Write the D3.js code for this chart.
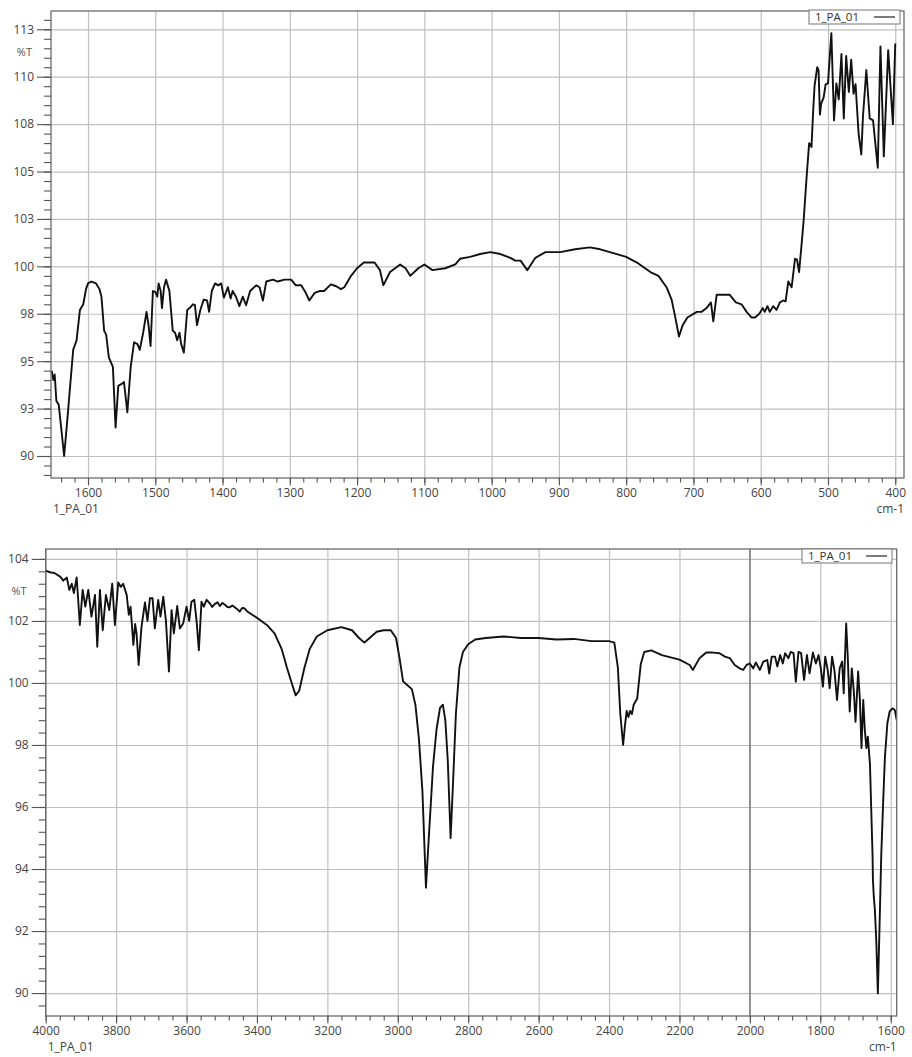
<!DOCTYPE html>
<html><head><meta charset="utf-8">
<script src="https://cdn.jsdelivr.net/npm/d3@7"></script>
<style>
body{margin:0;background:#fff;}
svg text{font-family:"Open Sans","Noto Sans",sans-serif;}
</style></head>
<body><svg id="c" width="912" height="1057"></svg>
<script>
// ---------- DATA ----------
const seriesName = "1_PA_01";
const xUnit = "cm-1";
const yUnit = "%T";

// Top panel (1655 - 387 cm-1)
const topWn = [1654,1651.5,1649.5,1647,1643.5,1639,1635.5,1631,1627,1622,1617,1612,1607,1603,1600,1595,1588,1583,1580,1576,1573,1569,1563,1559,1555,1550,1546.5,1541.5,1536.5,1531.5,1526.5,1523,1518,1513,1510,1507,1503.5,1500,1497,1495,1492,1490,1487,1484,1479,1474,1470.5,1467.5,1464,1461.5,1457.5,1452.5,1449,1444,1441,1438,1433,1428,1423,1420,1416,1411,1406.5,1402,1398,1392,1388,1385,1380,1375,1370,1365,1359,1350,1345,1340,1335,1325,1318,1308,1298,1291,1283,1277,1271,1263,1256,1249,1239,1231,1224,1219,1209,1200,1190,1183,1174,1166,1161,1151,1136,1128,1121,1109,1100,1088,1069,1054,1047,1032,1017,1002,987,972,965,957,947,935,920,898,876,854,838.5,819,800,784,764,752,740,732.5,727.5,721.5,716,709,695,688,680.5,674,670.5,665.5,655.5,646,637,628.5,621,613.5,608.5,602,597,594,590,586.5,581.5,576.5,571.5,566.5,563,559,554,549,546,543,539.5,536,532,528,524.5,522,520,516,514,512,510,506.5,503.5,500,495,491,487.5,484,480,476.5,473,469,465.5,462,459,454.5,450.5,448,443,438,433,426,422,417,410.5,403.5,400];
const topT = [94.5,94.0,94.3,92.9,92.7,91.2,90.0,91.8,93.5,95.6,96.1,97.7,98.0,98.8,99.1,99.2,99.1,98.8,98.4,96.6,96.4,95.2,94.7,91.5,93.7,93.8,93.9,92.3,94.7,96.0,95.9,95.6,96.5,97.6,96.9,95.8,98.7,98.65,98.4,99.1,98.7,97.8,98.9,99.3,98.7,96.6,96.5,96.1,96.5,95.9,95.45,97.7,97.8,98.0,97.95,96.9,97.7,98.25,98.2,97.6,98.7,99.1,99.0,99.1,98.35,98.9,98.3,98.7,98.4,97.9,98.4,97.95,98.7,99.0,98.9,98.2,99.2,99.3,99.2,99.3,99.3,99.0,99.0,98.65,98.2,98.6,98.7,98.7,99.05,98.95,98.8,98.9,99.5,99.9,100.2,100.2,100.2,99.8,99.0,99.7,100.1,99.9,99.5,99.9,100.1,99.8,99.9,100.1,100.4,100.5,100.65,100.75,100.65,100.45,100.3,100.3,99.8,100.45,100.75,100.75,100.9,101.0,100.9,100.7,100.5,100.2,99.7,99.5,98.9,98.25,97.4,96.3,96.9,97.3,97.6,97.6,97.8,98.1,97.1,98.5,98.5,98.5,98.1,98.0,97.6,97.3,97.3,97.5,97.8,97.6,97.9,97.6,97.9,97.7,98.1,98.2,98.15,99.2,98.9,100.4,100.35,99.7,101.05,102.5,104.6,106.5,106.3,108.2,109.5,110.5,110.35,108.0,108.6,108.9,109.6,109.65,112.3,107.7,109.65,108.8,111.2,107.8,111.1,109.2,110.9,109.1,109.6,107.0,105.9,107.9,110.35,107.8,107.7,105.2,111.6,105.8,111.4,107.5,111.75];

// Bottom panel (4000 - 1583 cm-1)
const botWn = [4000,3988,3974,3959,3950,3940,3933,3926,3920,3912,3903,3895,3887.5,3879,3870,3860,3853.5,3846,3838,3829,3819.5,3811,3803.5,3794,3787,3780,3770,3764,3759,3751,3746,3742,3736,3728,3718,3711,3704,3696.5,3690,3680.5,3674,3666,3658.5,3650,3642.5,3636,3626.5,3619,3609.5,3600,3592.5,3586,3578,3571.5,3565,3557.5,3551,3543,3534,3527,3519.5,3512,3505.5,3498,3491,3484,3477,3470,3463,3456,3449,3442,3434.5,3427,3420,3400,3370,3350,3330,3315,3300,3290,3280,3265,3250,3230,3200,3160,3130,3110,3095,3080,3060,3040,3020,3005,2995,2985,2975,2960,2950,2940,2930,2920,2912,2900,2890,2880,2872,2865,2858,2850,2843,2835,2825,2815,2800,2780,2750,2700,2650,2600,2550,2500,2450,2400,2385,2375,2368,2360,2355,2350,2345,2340,2335,2330,2320,2310,2300,2280,2250,2200,2171,2162,2143,2124,2105,2086,2071,2057,2043,2029,2019,2009.5,2000,1990.5,1983,1971.5,1962,1950.5,1945,1938,1928.5,1922,1914,1906.5,1900,1890.5,1884,1876,1869.5,1862,1854.5,1846,1838,1830.5,1821,1812.5,1805,1798.5,1792.5,1786,1779,1773.5,1766.5,1760,1752.5,1745,1738,1733.5,1726.5,1722,1716.5,1710.5,1705,1700,1692.5,1687.5,1683,1678,1673.5,1669,1665,1659,1655.5,1651.5,1650.5,1648,1645,1641,1636.5,1631.5,1627,1622,1616.5,1609.5,1603,1595,1588.5,1583];
const botT = [103.62,103.57,103.54,103.43,103.3,103.4,103.0,103.2,102.9,103.4,101.87,103.0,102.46,103.0,102.14,102.84,101.17,103.0,101.7,102.84,102.35,103.2,101.87,103.24,103.1,103.2,102.84,102.2,102.46,101.23,101.9,101.6,100.58,101.8,102.6,102.0,102.73,102.73,101.76,102.68,102.14,102.78,102.0,100.37,102.35,101.6,102.48,101.76,101.92,102.46,102.0,102.62,102.68,102.0,101.06,102.62,102.46,102.68,102.57,102.45,102.55,102.6,102.48,102.58,102.52,102.45,102.44,102.5,102.44,102.38,102.3,102.42,102.4,102.3,102.25,102.1,101.85,101.6,101.1,100.5,99.95,99.6,99.75,100.5,101.1,101.5,101.7,101.8,101.7,101.45,101.3,101.45,101.65,101.7,101.7,101.45,100.8,100.05,99.95,99.8,99.3,98.2,96.5,93.4,95.0,97.3,98.5,99.2,99.3,98.8,97.5,95.0,96.8,99.0,100.5,101.0,101.25,101.4,101.45,101.5,101.45,101.45,101.4,101.42,101.35,101.35,101.3,100.5,99.0,98.0,98.6,99.1,98.9,99.1,99.0,99.3,99.5,100.6,101.0,101.05,100.9,100.75,100.58,100.42,100.8,100.98,100.98,100.96,100.85,100.8,100.58,100.47,100.42,100.58,100.63,100.47,100.66,100.42,100.69,100.74,100.3,100.85,100.85,100.53,100.9,100.63,100.96,100.8,101.0,100.96,100.04,101.0,100.96,100.1,100.9,100.31,100.98,100.63,100.9,100.47,99.88,100.85,100.42,99.83,100.85,100.42,99.45,100.47,100.69,99.67,101.92,100.85,99.08,100.47,99.77,98.75,100.37,99.45,97.9,99.45,98.48,97.9,98.27,97.4,96.0,94.4,93.65,93.1,92.68,91.7,89.99,92.25,94.4,96.0,97.6,98.7,99.08,99.18,99.13,98.8];

// Axis ticks and labels
const topXTicks = [1600,1500,1400,1300,1200,1100,1000,900,800,700,600,500,400];
const topYTicks = [90,92.5,95,97.5,100,102.5,105,107.5,110,112.5];
const topYLabels = ["90","93","95","98","100","103","105","108","110","113"];
const botXTicks = [4000,3800,3600,3400,3200,3000,2800,2600,2400,2200,2000,1800,1600];
const botYTicks = [90,92,94,96,98,100,102,104];
const botYLabels = ["90","92","94","96","98","100","102","104"];

// ---------- DRAW ----------
const svg = d3.select("#c");
svg.append("rect").attr("width",912).attr("height",1057).attr("fill","#fff");

function panel(cfg){
  const g = svg.append("g");
  const x = d3.scaleLinear().domain(cfg.xDomain).range([cfg.left, cfg.right]);
  const y = d3.scaleLinear().domain(cfg.yDomain).range([cfg.bottom, cfg.top]);
  const W = cfg.right-cfg.left, H = cfg.bottom-cfg.top;
  const lab = {};
  cfg.yTicks.forEach((v,i)=>lab[v]=cfg.yLabels[i]);

  // grid
  g.append("g").attr("transform",`translate(0,${cfg.bottom})`)
    .call(d3.axisBottom(x).tickValues(cfg.xTicks).tickSize(-H).tickFormat(""))
    .call(s=>{s.select(".domain").remove(); s.selectAll("line").attr("stroke","#c0c0c0").attr("stroke-width",1.2);});
  g.append("g").attr("transform",`translate(${cfg.left},0)`)
    .call(d3.axisLeft(y).tickValues(cfg.yTicks).tickSize(-W).tickFormat(""))
    .call(s=>{s.select(".domain").remove(); s.selectAll("line").attr("stroke","#c0c0c0").attr("stroke-width",1.2);});
  if(cfg.darkLine!==undefined){
    g.append("line").attr("x1",x(cfg.darkLine)).attr("x2",x(cfg.darkLine))
      .attr("y1",cfg.top).attr("y2",cfg.bottom).attr("stroke","#666").attr("stroke-width",1.2);
  }

  // curve
  const cid = "clip"+cfg.id;
  svg.append("clipPath").attr("id",cid).append("rect")
    .attr("x",cfg.left).attr("y",cfg.top).attr("width",W).attr("height",H);
  const pts = cfg.wn.map((w,i)=>[w,cfg.t[i]]);
  g.append("path").attr("clip-path",`url(#${cid})`)
    .attr("d", d3.line().x(d=>x(d[0])).y(d=>y(d[1]))(pts))
    .attr("fill","none").attr("stroke","#111").attr("stroke-width",1.9).attr("stroke-linejoin","round");

  // border
  g.append("rect").attr("x",cfg.left).attr("y",cfg.top).attr("width",W).attr("height",H)
    .attr("fill","none").attr("stroke","#6a6a6a").attr("stroke-width",1.3);

  // axes
  const style = s=>{s.select(".domain").remove(); s.selectAll("line").attr("stroke","#555").attr("stroke-width",1.1);
    s.selectAll("text").attr("fill","#444").attr("font-size",12).attr("font-family","'Open Sans',sans-serif");};
  g.append("g").attr("transform",`translate(0,${cfg.bottom})`)
    .call(d3.axisBottom(x).tickValues(d3.range(cfg.xMinor[0],cfg.xMinor[1]-1e-6,-cfg.xMinor[2])).tickSize(4.5).tickFormat(""))
    .call(style);
  g.append("g").attr("transform",`translate(0,${cfg.bottom})`)
    .call(d3.axisBottom(x).tickValues(cfg.xTicks).tickSize(7.5).tickPadding(3).tickFormat(d3.format("d")))
    .call(style);
  g.append("g").attr("transform",`translate(${cfg.left},0)`)
    .call(d3.axisLeft(y).tickValues(d3.range(cfg.yMinor[0],cfg.yMinor[1]+1e-6,cfg.yMinor[2]).map(v=>+v.toFixed(3))).tickSize(7).tickFormat(""))
    .call(style);
  g.append("g").attr("transform",`translate(${cfg.left},0)`)
    .call(d3.axisLeft(y).tickValues(cfg.yTicks).tickSize(14).tickPadding(3).tickFormat(v=>lab[v]))
    .call(style);

  // unit labels
  g.append("text").attr("x",cfg.left-19).attr("y",cfg.pctY).attr("text-anchor","end")
    .attr("font-size",11).attr("fill","#555").attr("dominant-baseline","middle").text(yUnit);
  g.append("text").attr("x",cfg.left+2).attr("y",cfg.bottom+32).attr("dominant-baseline","middle")
    .attr("font-size",12).attr("fill","#444").text(seriesName);
  g.append("text").attr("x",cfg.right).attr("y",cfg.bottom+32).attr("text-anchor","end").attr("dominant-baseline","middle")
    .attr("font-size",12).attr("fill","#444").text(xUnit);

  // legend
  const lg = g.append("g");
  lg.append("rect").attr("x",cfg.leg[0]).attr("y",cfg.leg[1]).attr("width",cfg.leg[2]).attr("height",14)
    .attr("fill","#fff").attr("stroke","#777").attr("stroke-width",1);
  lg.append("text").attr("x",cfg.leg[0]+6).attr("y",cfg.leg[1]+7.5).attr("dominant-baseline","middle")
    .attr("font-size",11.5).attr("fill","#333").text(seriesName);
  lg.append("line").attr("x1",cfg.leg[0]+cfg.leg[2]-26).attr("x2",cfg.leg[0]+cfg.leg[2]-5)
    .attr("y1",cfg.leg[1]+7).attr("y2",cfg.leg[1]+7).attr("stroke","#222").attr("stroke-width",1.2);
}

panel({id:"t", left:51, right:904, top:11, bottom:478,
  xDomain:[1655,387], yDomain:[88.84,113.465],
  wn:topWn, t:topT, xTicks:topXTicks, yTicks:topYTicks, yLabels:topYLabels,
  xMinor:[1640,390,20], yMinor:[89,113,0.5], pctY:53, leg:[809,10,91]});

panel({id:"b", left:45.7, right:896.7, top:549, bottom:1016,
  xDomain:[4000,1583], yDomain:[89.26,104.32],
  wn:botWn, t:botT, xTicks:botXTicks, yTicks:botYTicks, yLabels:botYLabels,
  xMinor:[4000,1600,40], yMinor:[89.6,104,0.4], pctY:592, leg:[802,549,90], darkLine:2000});
</script></body></html>
